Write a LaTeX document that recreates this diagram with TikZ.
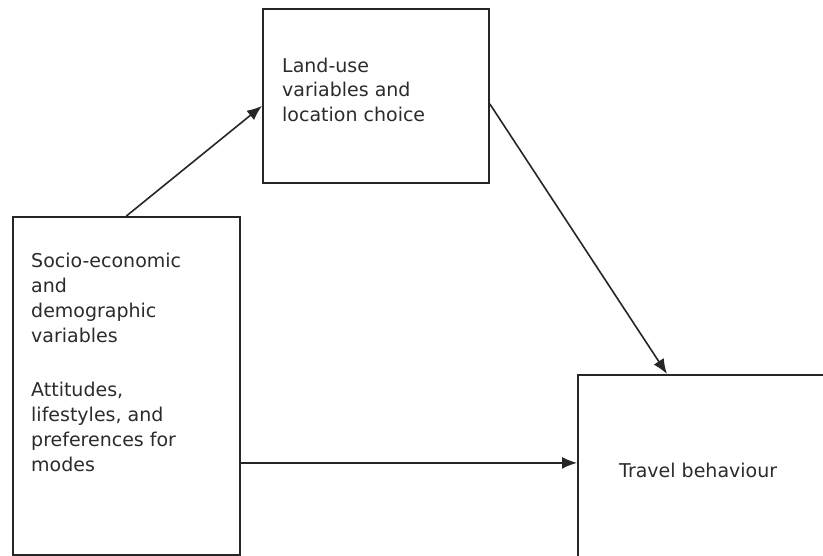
\documentclass[tikz,border=0pt]{standalone}
\usepackage{fontspec}
\setmainfont{DejaVu Sans}
\usepackage{tikz}
\usetikzlibrary{positioning}
\usetikzlibrary{arrows.meta}
\definecolor{linegray}{HTML}{262626}
\definecolor{textgray}{HTML}{2B2B2B}
\tikzstyle{box} = [rectangle, draw=linegray, line width=1.8pt, inner sep=0pt, anchor=north west]
\tikzstyle{boxtext} = [draw=none, fill=none, text=textgray, inner sep=0pt, align=left, font=\fontsize{19pt}{24.8pt}\selectfont]
\tikzstyle{effect} = [draw=linegray, line width=1.6pt, -{Latex[length=15pt,width=12pt]}]

\begin{document}
\begin{tikzpicture}[x=1pt, y=-1pt]
	\clip (0,0) rectangle (823,556);

	% place boxes
	\node [box, minimum width=227pt, minimum height=338pt] (socio)   at (12,216) {};
	\node [box, minimum width=226pt, minimum height=174pt] (landuse) at (262,8)  {};
	\node [box, minimum width=260pt, minimum height=200pt] (travel)  at (577,374) {};

	% place texts
	\node [boxtext, below right=37pt and 19pt of socio.north west]   (sociotext)
		{Socio-economic\\and\\demographic\\variables\\[30pt]Attitudes,\\lifestyles, and\\preferences for\\modes};
	\node [boxtext, below right=49.5pt and 20pt of landuse.north west] (landtext)
		{Land-use\\variables and\\location choice};
	\node [boxtext, below right=88.5pt and 42pt of travel.north west] (traveltext)
		{Travel behaviour};

	% draw edges
	\path [effect] (socio.north) -- ([yshift=-10pt]landuse.west);
	\path [effect] ([yshift=-8pt]landuse.east) -- ([xshift=90pt]travel.north west);
	\path [effect] ([yshift=-77pt]socio.east) -- ([yshift=-77pt]socio.east -| travel.west);
\end{tikzpicture}
\end{document}
